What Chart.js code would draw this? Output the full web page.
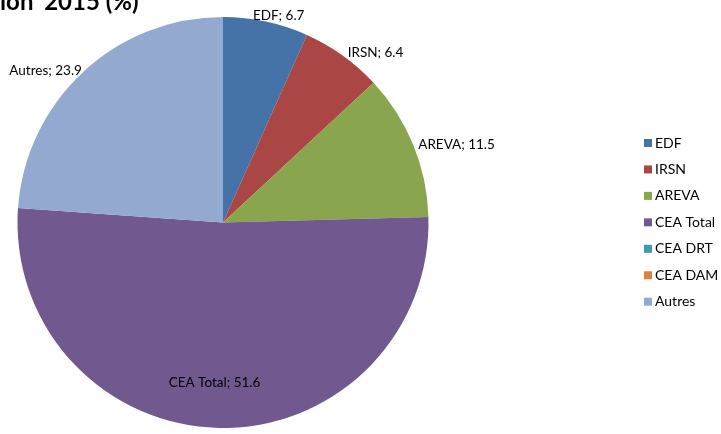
<!DOCTYPE html>
<html>
<head>
<meta charset="utf-8">
<script src="https://cdn.jsdelivr.net/npm/chart.js@4.4.0/dist/chart.umd.min.js"></script>
<style>
  html, body { margin: 0; padding: 0; background: #ffffff; }
  #wrap { width: 721px; height: 434px; position: relative; }
</style>
</head>
<body>
<div id="wrap"><canvas id="c" width="721" height="434"></canvas></div>
<script>
// ---- data ----
const categories = ['EDF', 'IRSN', 'AREVA', 'CEA Total', 'CEA DRT', 'CEA DAM', 'Autres'];
const values = [6.7, 6.4, 11.5, 51.6, 0, 0, 23.9];
const colors = ['#4572A7', '#AA4643', '#89A54E', '#71588F', '#4198AF', '#DB843D', '#93A9CF'];
const titleText = 'ion\u2019 2015 (%)';

const titlePlugin = {
  id: 'cutTitle',
  afterDraw(chart) {
    const ctx = chart.ctx;
    ctx.save();
    ctx.font = 'bold 24px Lato';
    ctx.fillStyle = '#000';
    ctx.textAlign = 'left';
    ctx.textBaseline = 'alphabetic';
    ctx.fillText(titleText, 0, 10);
    ctx.restore();
  }
};

const labelPlugin = {
  id: 'sliceLabels',
  afterDatasetsDraw(chart) {
    const ctx = chart.ctx;
    const meta = chart.getDatasetMeta(0);
    const data = chart.data.datasets[0].data;
    ctx.save();
    ctx.font = '13.5px Lato';
    ctx.fillStyle = '#000';
    ctx.textAlign = 'center';
    ctx.textBaseline = 'middle';
    meta.data.forEach((arc, i) => {
      const v = data[i];
      if (!v) return;
      const p = arc.getProps(['x', 'y', 'startAngle', 'endAngle', 'outerRadius'], true);
      const mid = (p.startAngle + p.endAngle) / 2;
      const text = chart.data.labels[i] + '; ' + v;
      const w = ctx.measureText(text).width;
      const c = Math.cos(mid), s = Math.sin(mid);
      let cx, cy;
      if (v >= 30) {
        cx = p.x + c * p.outerRadius * 0.78 - 5;
        cy = p.y + s * p.outerRadius * 0.78;
      } else {
        const px = p.x + c * p.outerRadius;
        const py = p.y + s * p.outerRadius;
        const gap = c > 0 ? 5 : -1;
        cx = px + (w / 2) * Math.max(-1, Math.min(1, 2 * c)) + gap * Math.min(1, Math.abs(2 * c));
        cy = py + 7 * s * (1 - Math.abs(c));
      }
      ctx.fillText(text, cx, cy);
    });
    ctx.restore();
  }
};

const legendPlugin = {
  id: 'sideLegend',
  afterDraw(chart) {
    const ctx = chart.ctx;
    const labels = chart.data.labels;
    const bg = chart.data.datasets[0].backgroundColor;
    ctx.save();
    ctx.font = '14px Lato';
    ctx.textAlign = 'left';
    ctx.textBaseline = 'middle';
    const x0 = 644, y0 = 143, step = 26.45;
    labels.forEach((lab, i) => {
      const y = y0 + i * step;
      ctx.fillStyle = bg[i];
      ctx.fillRect(x0, y - 4, 8, 8);
      ctx.fillStyle = '#000';
      ctx.fillText(lab, x0 + 11, y);
    });
    ctx.restore();
  }
};

new Chart(document.getElementById('c'), {
  type: 'pie',
  data: {
    labels: categories,
    datasets: [{
      data: values,
      backgroundColor: colors,
      borderWidth: 0,
      hoverOffset: 0
    }]
  },
  options: {
    responsive: false,
    animation: false,
    events: [],
    layout: { padding: { left: 17.5, right: 292.5, top: 17, bottom: 6 } },
    plugins: {
      legend: { display: false },
      tooltip: { enabled: false },
      title: { display: false }
    }
  },
  plugins: [labelPlugin, legendPlugin, titlePlugin]
});
</script>
</body>
</html>
